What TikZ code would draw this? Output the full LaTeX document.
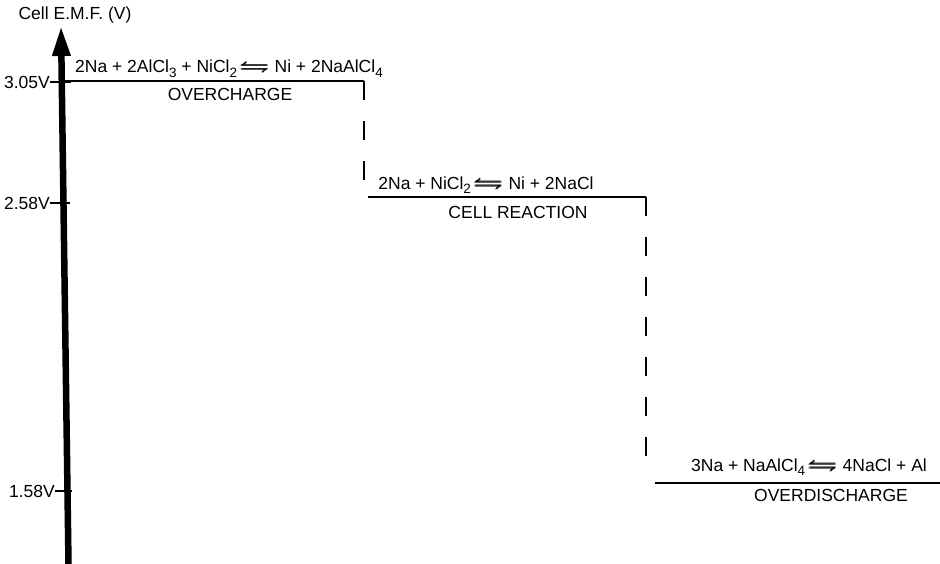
\documentclass[tikz,border=0pt]{standalone}
\usepackage{amsmath,amssymb}
\usepackage{graphicx}
\usepackage{fontspec}
\setmainfont{Liberation Sans}
\usepackage{tikz}
\usetikzlibrary{arrows.meta,positioning}
\newcommand{\eqm}{\,\scalebox{1.7}[1.15]{\pmb{$\leftrightharpoons$}}\ }
\newcommand{\sbs}[1]{\raisebox{-0.5ex}{\fontsize{13.5}{13.5}\selectfont #1}}
\begin{document}
\begin{tikzpicture}[x=1pt,y=-1pt,font=\fontsize{17.5}{19}\selectfont]
 \tikzset{level/.style={line width=2.6pt},
          drop/.style={line width=2.6pt,dash pattern=on 19pt off 21pt},
          tick/.style={line width=1.6pt},
          txt/.style={inner sep=0pt,anchor=center}}
 \useasboundingbox (0,0) rectangle (940,564);
 % axis
 \coordinate (ax0) at (68.5,564);
 \coordinate (ax1) at (61,26);
 \draw[line width=6.5pt,-{Triangle[length=30pt,width=17pt]}] (ax0)--(ax1);
 \node[txt] (ylab) at (75,15) {Cell E.M.F. (V)};
 % ticks
 \node[txt,anchor=east] (v1) at (50,82) {3.05V};
 \node[txt,anchor=east] (v2) at (50,203) {2.58V};
 \node[txt,anchor=east] (v3) at (55,491) {1.58V};
 \draw[tick] (v1.east)--(71,82);
 \draw[tick] (v2.east)--(70,203);
 \draw[tick] (v3.east)--(72,491);
 % levels
 \coordinate (a1) at (62,81);  \coordinate (b1) at (364,81);
 \coordinate (a2) at (368,197); \coordinate (b2) at (646,197);
 \coordinate (a3) at (655,483); \coordinate (b3) at (940,483);
 \draw[level] (a1)--(b1); \draw[level] (a2)--(b2); \draw[level] (a3)--(b3);
 \draw[drop] (b1)--(364,186);
 \draw[drop] (b2)--(646,466);
 % reactions
 \node[txt] (r1) at (229,69) {2Na + 2AlCl\sbs{3} + NiCl\sbs{2}\eqm Ni + 2NaAlCl\sbs{4}};
 \node[txt] (n1) at (230,94) {OVERCHARGE};
 \node[txt] (r2) at (486,185) {2Na + NiCl\sbs{2}\eqm Ni + 2NaCl};
 \node[txt] (n2) at (518,212) {CELL REACTION};
 \node[txt] (r3) at (809,467) {3Na + NaAlCl\sbs{4}\eqm 4NaCl + Al};
 \node[txt] (n3) at (831,495) {OVERDISCHARGE};
\end{tikzpicture}
\end{document}
